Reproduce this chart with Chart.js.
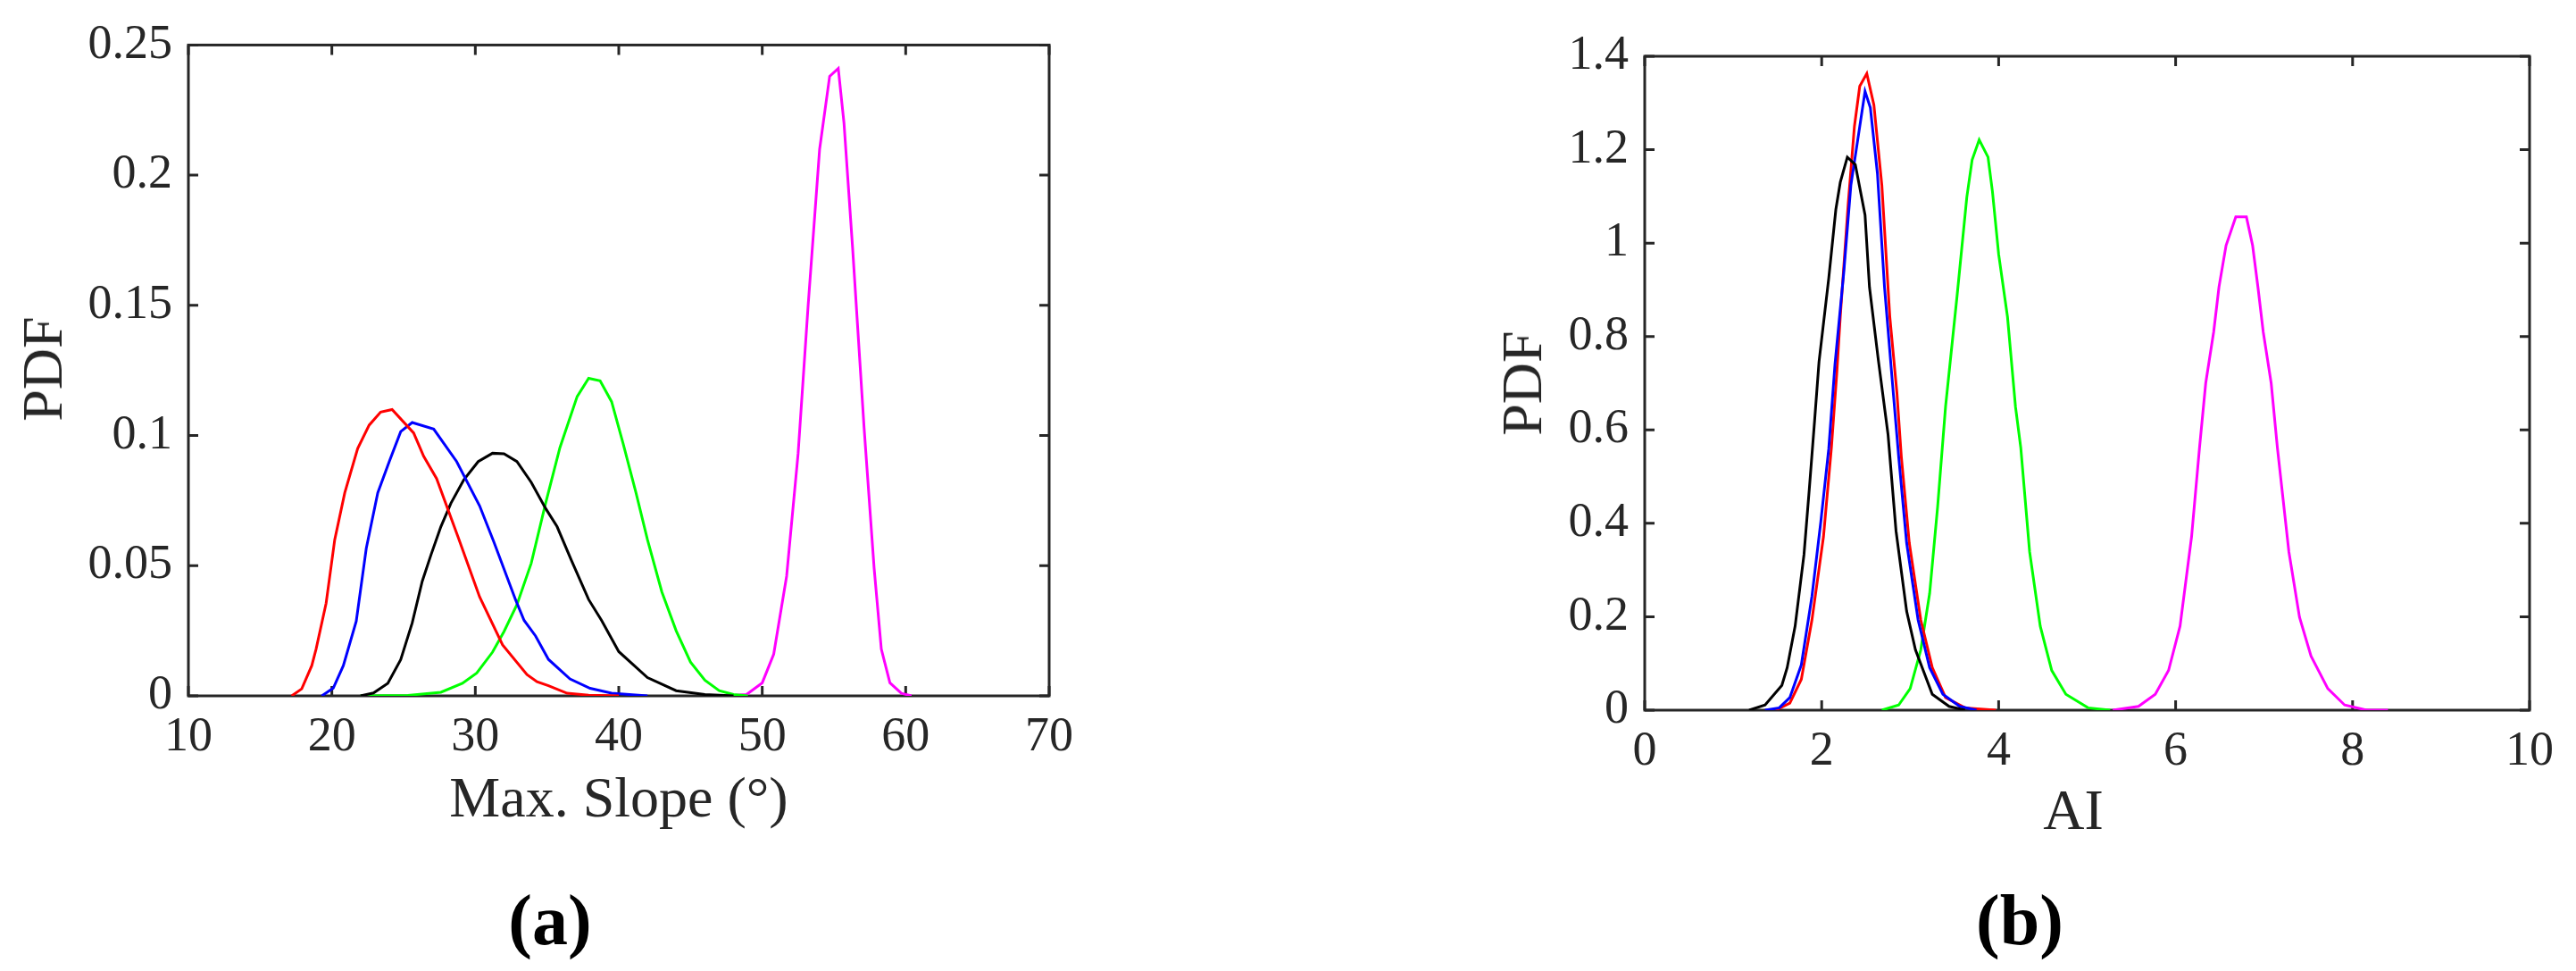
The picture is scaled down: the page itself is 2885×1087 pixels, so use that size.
<!DOCTYPE html>
<html>
<head>
<meta charset="utf-8">
<script src="https://cdn.jsdelivr.net/npm/chart.js@4.4.1/dist/chart.umd.min.js"></script>
<style>
  html, body { margin: 0; padding: 0; background: #fff; }
  #fig { position: relative; width: 2885px; height: 1087px; overflow: hidden; background: #fff; }
  canvas { position: absolute; top: 0; }
  .lbl { position: absolute; font-family: 'Liberation Serif', serif; color: #262626; white-space: nowrap; transform: translate(-50%, -50%); }
  .sub { position: absolute; font-family: 'Liberation Serif', serif; font-weight: bold; color: #000; font-size: 80px; transform: translate(-50%, -50%); }
</style>
</head>
<body>
<div id="fig">
  <canvas id="slope" width="1442" height="1087" style="left:0"></canvas>
  <canvas id="ai" width="1443" height="1087" style="left:1442px"></canvas>
  <div class="lbl" style="left:48px;top:413px;font-size:64px;transform:translate(-50%,-50%) rotate(-90deg)">PDF</div>
  <div class="lbl" style="left:693px;top:893px;font-size:64px">Max. Slope (°)</div>
  <div class="lbl" style="left:1705px;top:429px;font-size:64px;transform:translate(-50%,-50%) rotate(-90deg)">PDF</div>
  <div class="lbl" style="left:2322px;top:907px;font-size:64px">AI</div>
  <div class="sub" style="left:616px;top:1030px">(a)</div>
  <div class="sub" style="left:2262px;top:1030px">(b)</div>
</div>
<script>
// panel (a): max slope (deg) vs PDF
const slopeRed = [[17.2,0],[17.9,0.0027],[18.6,0.0116],[18.9,0.018],[19.6,0.0356],[20.2,0.060],[20.9,0.078],[21.8,0.095],[22.6,0.104],[23.4,0.109],[24.2,0.110],[25.7,0.101],[26.4,0.092],[27.3,0.0835],[28.8,0.061],[30.3,0.038],[31.9,0.0196],[33.6,0.0082],[34.3,0.0054],[35.1,0.0039],[36.4,0.001],[37.9,0.0003],[40,0]]
const slopeBlue = [[19.3,0],[20.1,0.003],[20.8,0.0116],[21.7,0.0287],[22.4,0.0567],[23.2,0.078],[24.0,0.090],[24.8,0.1015],[25.6,0.105],[27.1,0.1025],[28.7,0.090],[30.3,0.073],[31.3,0.059],[32.8,0.037],[33.4,0.029],[34.2,0.023],[35.1,0.014],[36.6,0.0065],[38.0,0.0029],[39.5,0.001],[42,0]]
const slopeBlack = [[22,0],[22.9,0.0011],[23.9,0.0048],[24.8,0.0139],[25.6,0.028],[26.3,0.044],[26.9,0.054],[27.6,0.065],[28.3,0.074],[29.2,0.083],[30.2,0.090],[31.2,0.0932],[32.0,0.093],[32.9,0.090],[33.9,0.082],[34.9,0.072],[35.7,0.065],[36.7,0.052],[37.9,0.037],[38.8,0.029],[40.0,0.017],[42.0,0.007],[44.0,0.002],[46.0,0.0005],[48,0]]
const slopeGreen = [[22,0],[25.3,0.0002],[27.6,0.0014],[29.1,0.0048],[30.1,0.0088],[31.2,0.0168],[32.0,0.0247],[32.9,0.035],[33.9,0.051],[34.9,0.074],[35.9,0.0954],[37.1,0.115],[37.9,0.122],[38.7,0.121],[39.5,0.113],[40.3,0.097],[41.2,0.078],[42.0,0.06],[43.0,0.04],[44.0,0.025],[45.0,0.013],[46.0,0.006],[47.0,0.002],[48.0,0.0005],[49,0]]
const slopeMagenta = [[47.5,0],[48.9,0.0005],[50.0,0.005],[50.8,0.016],[51.7,0.046],[52.5,0.093],[53.2,0.15],[54.0,0.21],[54.7,0.238],[55.3,0.241],[55.7,0.22],[56.3,0.172],[57.1,0.103],[57.8,0.049],[58.3,0.018],[58.9,0.005],[59.7,0.001],[60.4,0]]

// panel (b): AI vs PDF
const aiRed = [[1.48,0],[1.64,0.015],[1.77,0.066],[1.89,0.193],[2.02,0.371],[2.11,0.562],[2.17,0.72],[2.21,0.842],[2.30,1.085],[2.37,1.25],[2.43,1.336],[2.51,1.363],[2.59,1.296],[2.68,1.124],[2.77,0.842],[2.85,0.68],[2.90,0.543],[2.99,0.358],[3.12,0.193],[3.25,0.091],[3.40,0.027],[3.62,0.005],[3.97,0]]
const aiBlue = [[1.36,0],[1.52,0.005],[1.64,0.027],[1.77,0.097],[1.89,0.244],[1.99,0.403],[2.08,0.56],[2.15,0.74],[2.25,0.938],[2.33,1.124],[2.49,1.325],[2.55,1.29],[2.63,1.149],[2.71,0.906],[2.80,0.7],[2.87,0.543],[2.96,0.358],[3.09,0.193],[3.22,0.091],[3.37,0.034],[3.56,0.008],[3.75,0]]
const aiBlack = [[1.18,0],[1.36,0.011],[1.55,0.053],[1.61,0.091],[1.70,0.18],[1.80,0.333],[1.86,0.473],[1.92,0.62],[1.97,0.746],[2.08,0.925],[2.16,1.072],[2.21,1.13],[2.29,1.184],[2.38,1.168],[2.49,1.06],[2.54,0.906],[2.64,0.75],[2.75,0.59],[2.84,0.384],[2.96,0.212],[3.06,0.129],[3.25,0.034],[3.44,0.008],[3.62,0]]
const aiGreen = [[2.68,0],[2.87,0.011],[3.00,0.046],[3.12,0.129],[3.22,0.25],[3.31,0.435],[3.40,0.65],[3.53,0.887],[3.64,1.098],[3.70,1.178],[3.78,1.221],[3.88,1.184],[3.93,1.11],[4.00,0.976],[4.10,0.842],[4.19,0.65],[4.25,0.562],[4.35,0.339],[4.47,0.18],[4.60,0.085],[4.76,0.034],[5.01,0.005],[5.26,0]]
const aiMagenta = [[5.29,0],[5.58,0.008],[5.77,0.034],[5.92,0.085],[6.05,0.18],[6.18,0.371],[6.27,0.562],[6.34,0.7],[6.43,0.81],[6.49,0.906],[6.57,0.995],[6.68,1.056],[6.80,1.056],[6.87,0.995],[6.93,0.906],[6.99,0.81],[7.08,0.7],[7.15,0.562],[7.28,0.339],[7.40,0.199],[7.53,0.116],[7.72,0.046],[7.91,0.011],[8.16,0],[8.40,0]]

const axisColor = '#262626'
const tickFont = { family: "'Liberation Serif', serif", size: 54 }

// MATLAB-style box with inward ticks on all four sides
const boxPlugin = {
  id: 'box',
  beforeDatasetsDraw(chart) {
    const { ctx, chartArea: a, scales: { x, y } } = chart
    const len = 11
    ctx.save()
    ctx.strokeStyle = axisColor
    ctx.lineWidth = 3
    ctx.strokeRect(a.left, a.top, a.right - a.left, a.bottom - a.top)
    ctx.beginPath()
    x.ticks.forEach(t => {
      const px = x.getPixelForValue(t.value)
      ctx.moveTo(px, a.bottom); ctx.lineTo(px, a.bottom - len)
      ctx.moveTo(px, a.top); ctx.lineTo(px, a.top + len)
    })
    y.ticks.forEach(t => {
      const py = y.getPixelForValue(t.value)
      ctx.moveTo(a.left, py); ctx.lineTo(a.left + len, py)
      ctx.moveTo(a.right, py); ctx.lineTo(a.right - len, py)
    })
    ctx.stroke()
    ctx.restore()
  }
}

const fmt = v => String(Math.round(v * 100) / 100)

function drawPanel(id, series, cfg) {
  return new Chart(document.getElementById(id), {
    type: 'line',
    data: {
      datasets: series.map(([pts, color]) => ({
        data: pts.map(([x, y]) => ({ x, y })),
        borderColor: color,
        borderWidth: 3,
        pointRadius: 0,
        tension: 0,
        fill: false
      }))
    },
    options: {
      responsive: false,
      animation: false,
      devicePixelRatio: 1,
      layout: { padding: cfg.padding },
      plugins: { legend: { display: false }, tooltip: { enabled: false } },
      scales: {
        x: {
          type: 'linear', min: cfg.xMin, max: cfg.xMax,
          ticks: { stepSize: cfg.xStep, padding: 14, font: tickFont, color: axisColor, maxRotation: 0, autoSkip: false, callback: fmt },
          grid: { display: false, drawTicks: false },
          border: { display: false },
          afterFit(s) { s.height = cfg.xHeight }
        },
        y: {
          type: 'linear', min: 0, max: cfg.yMax,
          ticks: { stepSize: cfg.yStep, padding: 18, font: tickFont, color: axisColor, autoSkip: false, callback: fmt },
          grid: { display: false, drawTicks: false },
          border: { display: false },
          afterFit(s) { s.width = cfg.yWidth }
        }
      }
    },
    plugins: [boxPlugin]
  })
}

drawPanel('slope', [
  [slopeRed, '#ff0000'], [slopeBlue, '#0000ff'], [slopeBlack, '#000000'],
  [slopeGreen, '#00ff00'], [slopeMagenta, '#ff00ff']
], { xMin: 10, xMax: 70, xStep: 10, yMax: 0.25, yStep: 0.05,
     padding: { top: 48, right: 267, left: 0, bottom: 0 }, yWidth: 211, xHeight: 308 })

drawPanel('ai', [
  [aiBlack, '#000000'], [aiBlue, '#0000ff'], [aiRed, '#ff0000'],
  [aiGreen, '#00ff00'], [aiMagenta, '#ff00ff']
], { xMin: 0, xMax: 10, xStep: 2, yMax: 1.4, yStep: 0.2,
     padding: { top: 63, right: 52, left: 0, bottom: 0 }, yWidth: 400, xHeight: 292 })
</script>
</body>
</html>
